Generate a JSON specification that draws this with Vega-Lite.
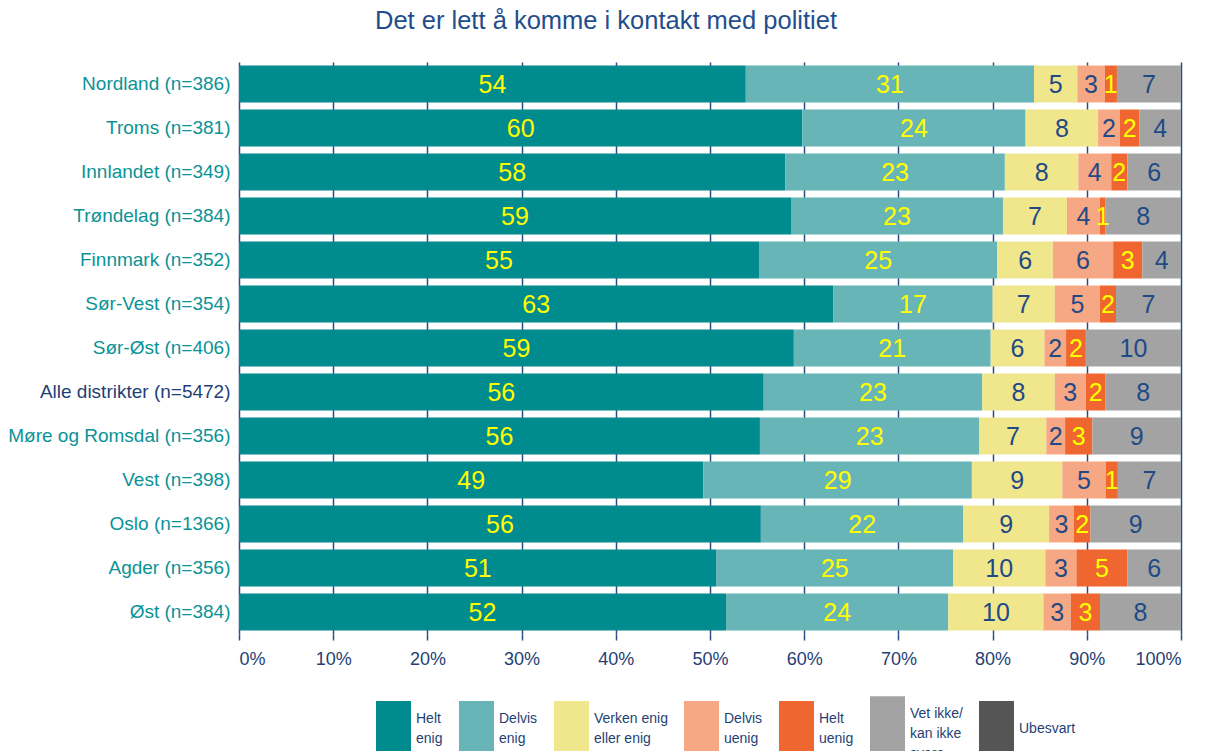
{
  "$schema": "https://vega.github.io/schema/vega-lite/v6.json",
  "width": 942,
  "height": 572,
  "autosize": "none",
  "padding": {"left": 239, "top": 62, "right": 26, "bottom": 117},
  "background": "white",
  "title": {
    "text": "Det er lett å komme i kontakt med politiet",
    "font": "Liberation Sans",
    "fontSize": 25.5,
    "fontWeight": "normal",
    "color": "#1F4E8C",
    "anchor": "start",
    "frame": "group",
    "dx": 136,
    "offset": 28
  },
  "config": {
    "view": {"stroke": null},
    "font": "Liberation Sans",
    "style": {"guide-label": {"lineHeight": 20}}
  },
  "data": {
    "values": [
      {"r": "Nordland (n=386)", "c": "Helt enig", "k": 1, "v": 53.8, "n": 54},
      {"r": "Nordland (n=386)", "c": "Delvis enig", "k": 2, "v": 30.6, "n": 31},
      {"r": "Nordland (n=386)", "c": "Verken enig eller enig", "k": 3, "v": 4.6, "n": 5},
      {"r": "Nordland (n=386)", "c": "Delvis uenig", "k": 4, "v": 2.9, "n": 3},
      {"r": "Nordland (n=386)", "c": "Helt uenig", "k": 5, "v": 1.3, "n": 1},
      {"r": "Nordland (n=386)", "c": "Vet ikke/ kan ikke svare", "k": 6, "v": 6.8, "n": 7},

      {"r": "Troms (n=381)", "c": "Helt enig", "k": 1, "v": 59.8, "n": 60},
      {"r": "Troms (n=381)", "c": "Delvis enig", "k": 2, "v": 23.7, "n": 24},
      {"r": "Troms (n=381)", "c": "Verken enig eller enig", "k": 3, "v": 7.7, "n": 8},
      {"r": "Troms (n=381)", "c": "Delvis uenig", "k": 4, "v": 2.3, "n": 2},
      {"r": "Troms (n=381)", "c": "Helt uenig", "k": 5, "v": 2.1, "n": 2},
      {"r": "Troms (n=381)", "c": "Vet ikke/ kan ikke svare", "k": 6, "v": 4.4, "n": 4},

      {"r": "Innlandet (n=349)", "c": "Helt enig", "k": 1, "v": 58.0, "n": 58},
      {"r": "Innlandet (n=349)", "c": "Delvis enig", "k": 2, "v": 23.3, "n": 23},
      {"r": "Innlandet (n=349)", "c": "Verken enig eller enig", "k": 3, "v": 7.8, "n": 8},
      {"r": "Innlandet (n=349)", "c": "Delvis uenig", "k": 4, "v": 3.5, "n": 4},
      {"r": "Innlandet (n=349)", "c": "Helt uenig", "k": 5, "v": 1.7, "n": 2},
      {"r": "Innlandet (n=349)", "c": "Vet ikke/ kan ikke svare", "k": 6, "v": 5.7, "n": 6},

      {"r": "Trøndelag (n=384)", "c": "Helt enig", "k": 1, "v": 58.6, "n": 59},
      {"r": "Trøndelag (n=384)", "c": "Delvis enig", "k": 2, "v": 22.5, "n": 23},
      {"r": "Trøndelag (n=384)", "c": "Verken enig eller enig", "k": 3, "v": 6.8, "n": 7},
      {"r": "Trøndelag (n=384)", "c": "Delvis uenig", "k": 4, "v": 3.5, "n": 4},
      {"r": "Trøndelag (n=384)", "c": "Helt uenig", "k": 5, "v": 0.6, "n": 1},
      {"r": "Trøndelag (n=384)", "c": "Vet ikke/ kan ikke svare", "k": 6, "v": 8.0, "n": 8},

      {"r": "Finnmark (n=352)", "c": "Helt enig", "k": 1, "v": 55.2, "n": 55},
      {"r": "Finnmark (n=352)", "c": "Delvis enig", "k": 2, "v": 25.3, "n": 25},
      {"r": "Finnmark (n=352)", "c": "Verken enig eller enig", "k": 3, "v": 5.9, "n": 6},
      {"r": "Finnmark (n=352)", "c": "Delvis uenig", "k": 4, "v": 6.4, "n": 6},
      {"r": "Finnmark (n=352)", "c": "Helt uenig", "k": 5, "v": 3.1, "n": 3},
      {"r": "Finnmark (n=352)", "c": "Vet ikke/ kan ikke svare", "k": 6, "v": 4.1, "n": 4},

      {"r": "Sør-Vest (n=354)", "c": "Helt enig", "k": 1, "v": 63.1, "n": 63},
      {"r": "Sør-Vest (n=354)", "c": "Delvis enig", "k": 2, "v": 16.9, "n": 17},
      {"r": "Sør-Vest (n=354)", "c": "Verken enig eller enig", "k": 3, "v": 6.6, "n": 7},
      {"r": "Sør-Vest (n=354)", "c": "Delvis uenig", "k": 4, "v": 4.8, "n": 5},
      {"r": "Sør-Vest (n=354)", "c": "Helt uenig", "k": 5, "v": 1.7, "n": 2},
      {"r": "Sør-Vest (n=354)", "c": "Vet ikke/ kan ikke svare", "k": 6, "v": 6.9, "n": 7},

      {"r": "Sør-Øst (n=406)", "c": "Helt enig", "k": 1, "v": 58.9, "n": 59},
      {"r": "Sør-Øst (n=406)", "c": "Delvis enig", "k": 2, "v": 20.9, "n": 21},
      {"r": "Sør-Øst (n=406)", "c": "Verken enig eller enig", "k": 3, "v": 5.7, "n": 6},
      {"r": "Sør-Øst (n=406)", "c": "Delvis uenig", "k": 4, "v": 2.3, "n": 2},
      {"r": "Sør-Øst (n=406)", "c": "Helt uenig", "k": 5, "v": 2.1, "n": 2},
      {"r": "Sør-Øst (n=406)", "c": "Vet ikke/ kan ikke svare", "k": 6, "v": 10.1, "n": 10},

      {"r": "Alle distrikter (n=5472)", "c": "Helt enig", "k": 1, "v": 55.7, "n": 56},
      {"r": "Alle distrikter (n=5472)", "c": "Delvis enig", "k": 2, "v": 23.2, "n": 23},
      {"r": "Alle distrikter (n=5472)", "c": "Verken enig eller enig", "k": 3, "v": 7.7, "n": 8},
      {"r": "Alle distrikter (n=5472)", "c": "Delvis uenig", "k": 4, "v": 3.3, "n": 3},
      {"r": "Alle distrikter (n=5472)", "c": "Helt uenig", "k": 5, "v": 2.1, "n": 2},
      {"r": "Alle distrikter (n=5472)", "c": "Vet ikke/ kan ikke svare", "k": 6, "v": 8.0, "n": 8},

      {"r": "Møre og Romsdal (n=356)", "c": "Helt enig", "k": 1, "v": 55.3, "n": 56},
      {"r": "Møre og Romsdal (n=356)", "c": "Delvis enig", "k": 2, "v": 23.3, "n": 23},
      {"r": "Møre og Romsdal (n=356)", "c": "Verken enig eller enig", "k": 3, "v": 7.1, "n": 7},
      {"r": "Møre og Romsdal (n=356)", "c": "Delvis uenig", "k": 4, "v": 2.0, "n": 2},
      {"r": "Møre og Romsdal (n=356)", "c": "Helt uenig", "k": 5, "v": 2.9, "n": 3},
      {"r": "Møre og Romsdal (n=356)", "c": "Vet ikke/ kan ikke svare", "k": 6, "v": 9.4, "n": 9},

      {"r": "Vest (n=398)", "c": "Helt enig", "k": 1, "v": 49.3, "n": 49},
      {"r": "Vest (n=398)", "c": "Delvis enig", "k": 2, "v": 28.5, "n": 29},
      {"r": "Vest (n=398)", "c": "Verken enig eller enig", "k": 3, "v": 9.6, "n": 9},
      {"r": "Vest (n=398)", "c": "Delvis uenig", "k": 4, "v": 4.6, "n": 5},
      {"r": "Vest (n=398)", "c": "Helt uenig", "k": 5, "v": 1.3, "n": 1},
      {"r": "Vest (n=398)", "c": "Vet ikke/ kan ikke svare", "k": 6, "v": 6.7, "n": 7},

      {"r": "Oslo (n=1366)", "c": "Helt enig", "k": 1, "v": 55.4, "n": 56},
      {"r": "Oslo (n=1366)", "c": "Delvis enig", "k": 2, "v": 21.5, "n": 22},
      {"r": "Oslo (n=1366)", "c": "Verken enig eller enig", "k": 3, "v": 9.1, "n": 9},
      {"r": "Oslo (n=1366)", "c": "Delvis uenig", "k": 4, "v": 2.6, "n": 3},
      {"r": "Oslo (n=1366)", "c": "Helt uenig", "k": 5, "v": 1.8, "n": 2},
      {"r": "Oslo (n=1366)", "c": "Vet ikke/ kan ikke svare", "k": 6, "v": 9.6, "n": 9},

      {"r": "Agder (n=356)", "c": "Helt enig", "k": 1, "v": 50.7, "n": 51},
      {"r": "Agder (n=356)", "c": "Delvis enig", "k": 2, "v": 25.1, "n": 25},
      {"r": "Agder (n=356)", "c": "Verken enig eller enig", "k": 3, "v": 9.8, "n": 10},
      {"r": "Agder (n=356)", "c": "Delvis uenig", "k": 4, "v": 3.3, "n": 3},
      {"r": "Agder (n=356)", "c": "Helt uenig", "k": 5, "v": 5.4, "n": 5},
      {"r": "Agder (n=356)", "c": "Vet ikke/ kan ikke svare", "k": 6, "v": 5.7, "n": 6},

      {"r": "Øst (n=384)", "c": "Helt enig", "k": 1, "v": 51.7, "n": 52},
      {"r": "Øst (n=384)", "c": "Delvis enig", "k": 2, "v": 23.6, "n": 24},
      {"r": "Øst (n=384)", "c": "Verken enig eller enig", "k": 3, "v": 10.1, "n": 10},
      {"r": "Øst (n=384)", "c": "Delvis uenig", "k": 4, "v": 2.9, "n": 3},
      {"r": "Øst (n=384)", "c": "Helt uenig", "k": 5, "v": 3.1, "n": 3},
      {"r": "Øst (n=384)", "c": "Vet ikke/ kan ikke svare", "k": 6, "v": 8.6, "n": 8}
    ]
  },
  "transform": [
    {"stack": "v", "groupby": ["r"], "sort": [{"field": "k", "order": "ascending"}], "as": ["x0", "x1"]},
    {"calculate": "(datum.x0 + datum.x1) / 2", "as": "xm"}
  ],
  "encoding": {
    "y": {
      "field": "r",
      "type": "nominal",
      "sort": ["Nordland (n=386)", "Troms (n=381)", "Innlandet (n=349)", "Trøndelag (n=384)", "Finnmark (n=352)", "Sør-Vest (n=354)", "Sør-Øst (n=406)", "Alle distrikter (n=5472)", "Møre og Romsdal (n=356)", "Vest (n=398)", "Oslo (n=1366)", "Agder (n=356)", "Øst (n=384)"],
      "scale": {"paddingInner": 0.16, "paddingOuter": 0.08},
      "axis": {
        "title": null,
        "domain": false,
        "ticks": false,
        "labelFontSize": 19,
        "labelPadding": 9,
        "labelLimit": 400,
        "labelColor": {"expr": "datum.value == 'Alle distrikter (n=5472)' ? '#1F3F75' : '#0A9396'"},
        "labelFont": "Liberation Sans"
      }
    }
  },
  "layer": [
    {
      "mark": {"type": "bar"},
      "encoding": {
        "x": {
          "field": "x0",
          "type": "quantitative",
          "scale": {"domain": [0, 100], "nice": false},
          "axis": {
            "title": null,
            "values": [0, 10, 20, 30, 40, 50, 60, 70, 80, 90, 100],
            "labelExpr": "datum.value + '%'",
            "labelFontSize": 18,
            "labelColor": "#1F3F75",
            "labelPadding": 10,
            "grid": true,
            "gridColor": "#2B4C80",
            "gridWidth": 1.5,
            "domain": false,
            "ticks": true,
            "tickColor": "#2B4C80",
            "tickSize": 6,
            "tickWidth": 1.5
          }
        },
        "x2": {"field": "x1"},
        "color": {
          "field": "c",
          "type": "nominal",
          "scale": {
            "domain": ["Helt enig", "Delvis enig", "Verken enig eller enig", "Delvis uenig", "Helt uenig", "Vet ikke/ kan ikke svare", "Ubesvart"],
            "range": ["#008B8E", "#67B5B7", "#F0E68C", "#F6A784", "#EF6630", "#A3A3A3", "#555555"]
          },
          "legend": {
            "title": null,
            "orient": "none",
            "legendX": 127,
            "legendY": 634,
            "direction": "horizontal",
            "columns": 7,
            "symbolType": "M-0.636,-1H0.636V1H-0.636Z",
            "symbolSize": 3025,
            "symbolOpacity": 1,
            "symbolStrokeWidth": 0,
            "labelFontSize": 14,
            "labelColor": "#1F3F75",
            "labelOffset": -5,
            "labelLimit": 200,
            "columnPadding": 6,
            "labelBaseline": {"expr": "datum.value == 'Ubesvart' ? 'middle' : 'line-bottom'"},
            "labelExpr": "datum.label == 'Helt enig' ? ['Helt', 'enig'] : datum.label == 'Delvis enig' ? ['Delvis', 'enig'] : datum.label == 'Verken enig eller enig' ? ['Verken enig', 'eller enig'] : datum.label == 'Delvis uenig' ? ['Delvis', 'uenig'] : datum.label == 'Helt uenig' ? ['Helt', 'uenig'] : datum.label == 'Vet ikke/ kan ikke svare' ? ['Vet ikke/', 'kan ikke', 'svare'] : datum.label"
          }
        }
      }
    },
    {
      "mark": {"type": "text", "font": "Liberation Sans", "fontSize": 25, "baseline": "middle", "align": "center", "dy": 1},
      "encoding": {
        "x": {"field": "xm", "type": "quantitative"},
        "text": {"field": "n", "type": "quantitative"},
        "color": {
          "condition": {"test": "datum.c == 'Helt enig' || datum.c == 'Delvis enig' || datum.c == 'Helt uenig'", "value": "#FFFF00"},
          "value": "#1F4A85"
        }
      }
    }
  ]
}
